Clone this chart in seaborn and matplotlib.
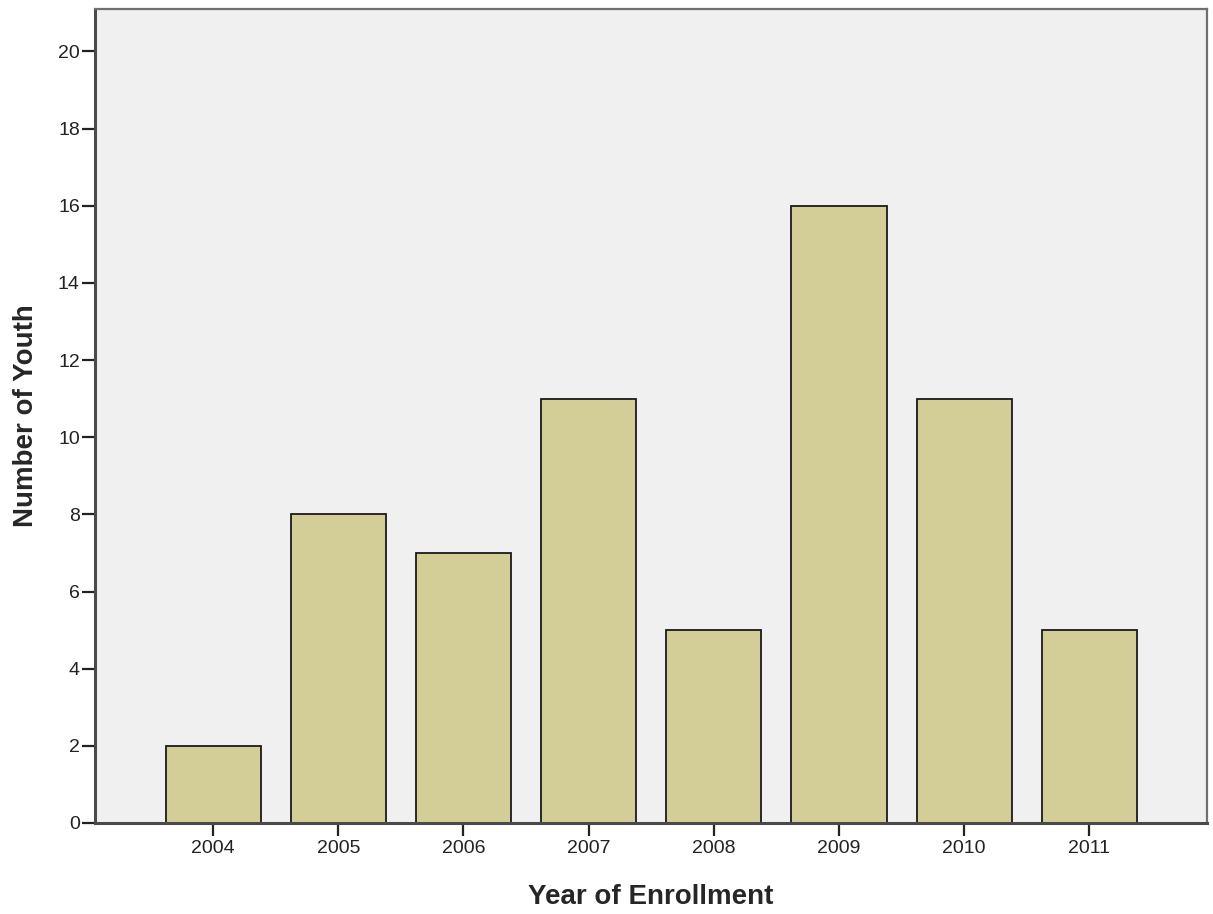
import numpy as np
import pandas as pd
import matplotlib
matplotlib.use("Agg")
import matplotlib.pyplot as plt
import seaborn as sns

years = ["2004", "2005", "2006", "2007", "2008", "2009", "2010", "2011"]
counts = [2, 8, 7, 11, 5, 16, 11, 5]
y_ticks = list(range(0, 21, 2))

df = pd.DataFrame({"year": years, "count": counts})

sns.set_style("white")
plt.rcParams["font.family"] = ["Liberation Sans", "DejaVu Sans"]

fig = plt.figure(figsize=(12.13, 9.14), dpi=100)
ax = fig.add_axes([0.0783, 0.0996, 0.9167, 0.8905])
ax.set_facecolor("#f0f0f0")

sns.barplot(data=df, x="year", y="count", color="#d3ce97", width=0.76,
            edgecolor="#1a1a1a", linewidth=1.3, saturation=1, ax=ax)

ax.set_xlim(-0.944, 7.94)
ax.set_ylim(0, 21.1)
ax.set_yticks(y_ticks)
ax.set_xlabel("Year of Enrollment", fontsize=20, fontweight="bold")
ax.set_ylabel("Number of Youth", fontsize=20, fontweight="bold")
ax.xaxis.set_label_coords(0.5, -0.075)
ax.yaxis.set_label_coords(-0.0505, 0.5)
ax.tick_params(axis="both", labelsize=14, colors="#222222", direction="out",
               width=1.6, length=9.4, left=True, bottom=True)
ax.tick_params(axis="x", pad=3)
ax.tick_params(axis="y", pad=1.5)

for side in ["left", "bottom"]:
    ax.spines[side].set_color("#4a4a4a")
    ax.spines[side].set_linewidth(2.2)
for side in ["top", "right"]:
    ax.spines[side].set_color("#707070")
    ax.spines[side].set_linewidth(1.6)

fig.savefig("out.png", dpi=100)
